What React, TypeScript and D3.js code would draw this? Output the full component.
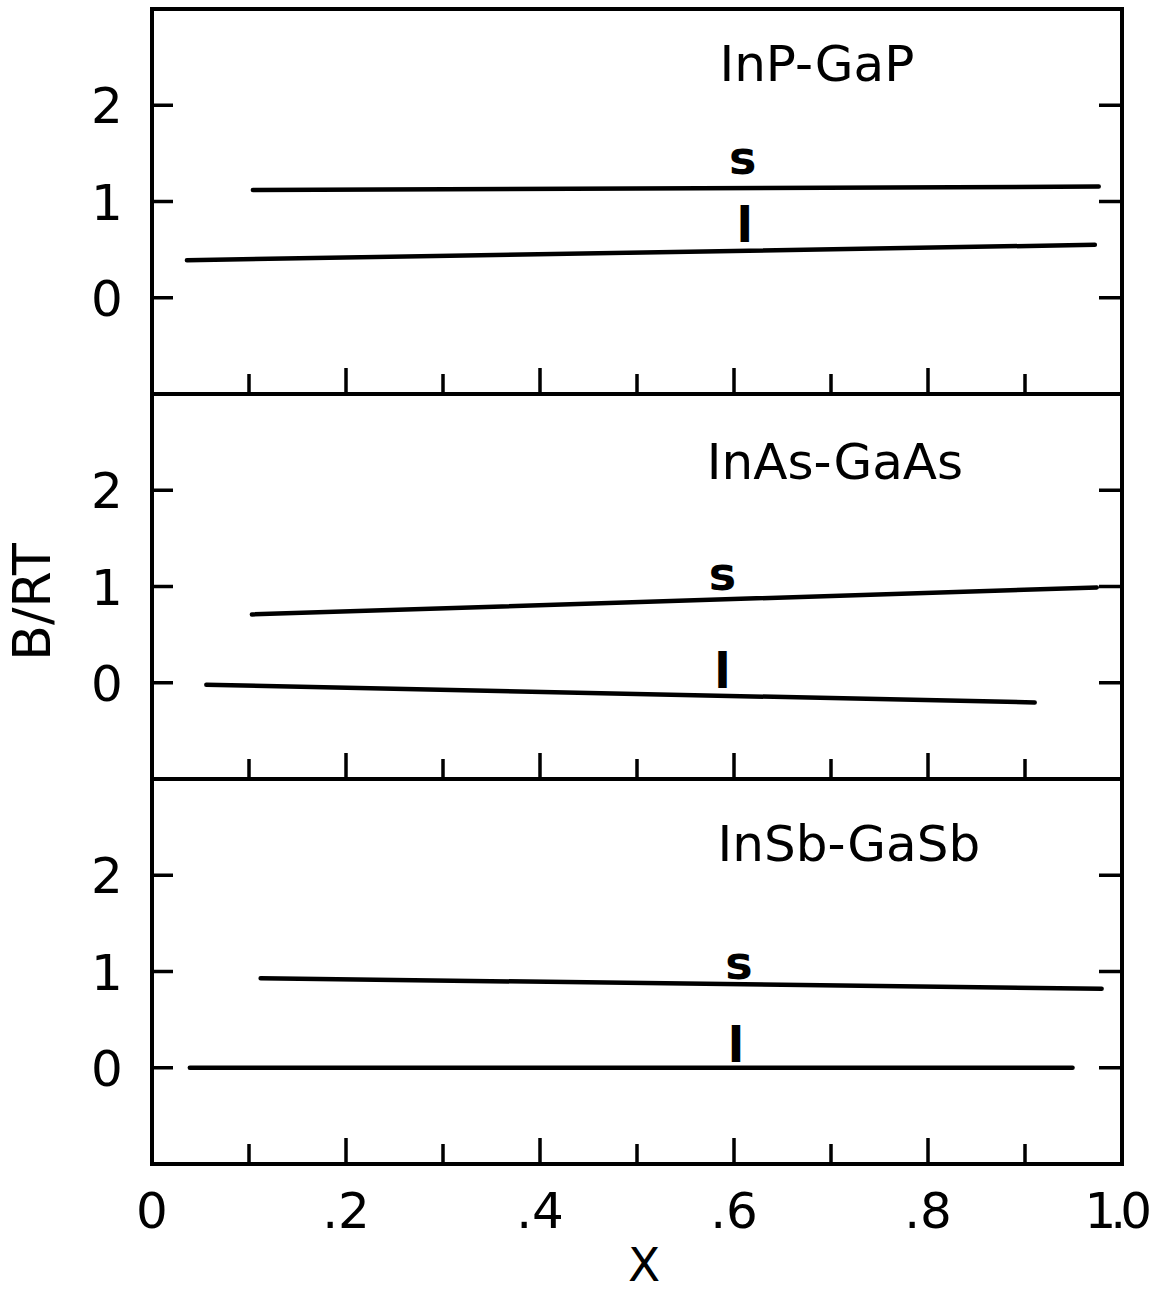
import React, { useEffect } from 'react';
import * as d3 from 'd3';

// panel names (top to bottom)
const systems = ['InP-GaP', 'InAs-GaAs', 'InSb-GaSb'];

// solid (s) curves: x and B/RT at both ends
const solidX = [[0.104, 0.976], [0.103, 0.974], [0.112, 0.979]];
const solidY = [[1.12, 1.155], [0.71, 0.99], [0.93, 0.82]];

// liquid (l) curves
const liquidX = [[0.036, 0.972], [0.056, 0.91], [0.039, 0.949]];
const liquidY = [[0.39, 0.55], [-0.02, -0.205], [0.0, 0.0]];

// curve label anchors (data coords)
const sLabelX = [0.609, 0.588, 0.605];
const sLabelY = [1.29, 0.96, 0.92];
const lLabelX = [0.611, 0.588, 0.602];
const lLabelY = [0.58, -0.05, 0.06];
const titleX = [0.585, 0.572, 0.583];
const titleY = [2.25, 2.12, 2.15];

const yTicks = [0, 1, 2];
const xTicks = [0.1, 0.2, 0.3, 0.4, 0.5, 0.6, 0.7, 0.8, 0.9];
const xTickLabels = ['0', '.2', '.4', '.6', '.8', '1.0'];
const xLabelValues = [0, 0.2, 0.4, 0.6, 0.8, 1.0];

const W = 1151;
const H = 1293;
const left = 152;
const right = 1122;
const top0 = 9;
const panelH = 385;
const font = '"DejaVu Sans", sans-serif';

const App = () => {
  useEffect(() => {
    document.body.style.margin = '0';
  }, []);

  const x = d3.scaleLinear().domain([0, 1]).range([left, right]);
  const line = d3.line<[number, number]>();

  return (
    <svg width={W} height={H} style={{ display: 'block', background: '#fff' }}>
      {systems.map((name, i) => {
        const top = top0 + i * panelH;
        const y = d3.scaleLinear().domain([-1, 3]).range([top + panelH, top]);
        const sPts: [number, number][] = solidX[i].map((v, k) => [x(v), y(solidY[i][k])]);
        const lPts: [number, number][] = liquidX[i].map((v, k) => [x(v), y(liquidY[i][k])]);
        return (
          <g key={name}>
            <rect x={left} y={top} width={right - left} height={panelH}
              fill="none" stroke="#000" strokeWidth={4} />
            {yTicks.map(t => (
              <g key={t}>
                <line x1={left} x2={left + 21} y1={y(t)} y2={y(t)} stroke="#000" strokeWidth={3.5} />
                <line x1={right - 23} x2={right} y1={y(t)} y2={y(t)} stroke="#000" strokeWidth={3.5} />
                <text x={107} y={y(t)} dy="0.36em" textAnchor="middle"
                  fontFamily={font} fontSize={50}>{t}</text>
              </g>
            ))}
            {xTicks.map((t, k) => (
              <line key={t} x1={x(t)} x2={x(t)} y1={top + panelH}
                y2={top + panelH - (k % 2 === 1 ? 26 : 20)} stroke="#000" strokeWidth={3.5} />
            ))}
            <path d={line(sPts) || ''} stroke="#000" strokeWidth={4.5} fill="none" strokeLinecap="round" />
            <path d={line(lPts) || ''} stroke="#000" strokeWidth={4.5} fill="none" strokeLinecap="round" />
            <text x={x(sLabelX[i])} y={y(sLabelY[i])} textAnchor="middle"
              fontFamily={font} fontSize={46} fontWeight="bold">s</text>
            <text x={x(lLabelX[i])} y={y(lLabelY[i])} textAnchor="middle"
              fontFamily={font} fontSize={48} fontWeight="bold">l</text>
            <text x={x(titleX[i])} y={y(titleY[i])} fontFamily={font} fontSize={50}>{name}</text>
          </g>
        );
      })}
      {xLabelValues.map((v, k) => {
        const last = k === xLabelValues.length - 1;
        return (
          <text key={v} x={last ? 1146 : x(v)} y={1228} textAnchor={last ? 'end' : 'middle'}
            letterSpacing={last ? -6 : 0} fontFamily={font} fontSize={50}>
            {xTickLabels[k]}
          </text>
        );
      })}
      <text x={644} y={1281} textAnchor="middle" fontFamily={font} fontSize={47}>X</text>
      <text transform="translate(50,602) rotate(-90)" textAnchor="middle"
        fontFamily={font} fontSize={52}>B/RT</text>
    </svg>
  );
};

export default App;
